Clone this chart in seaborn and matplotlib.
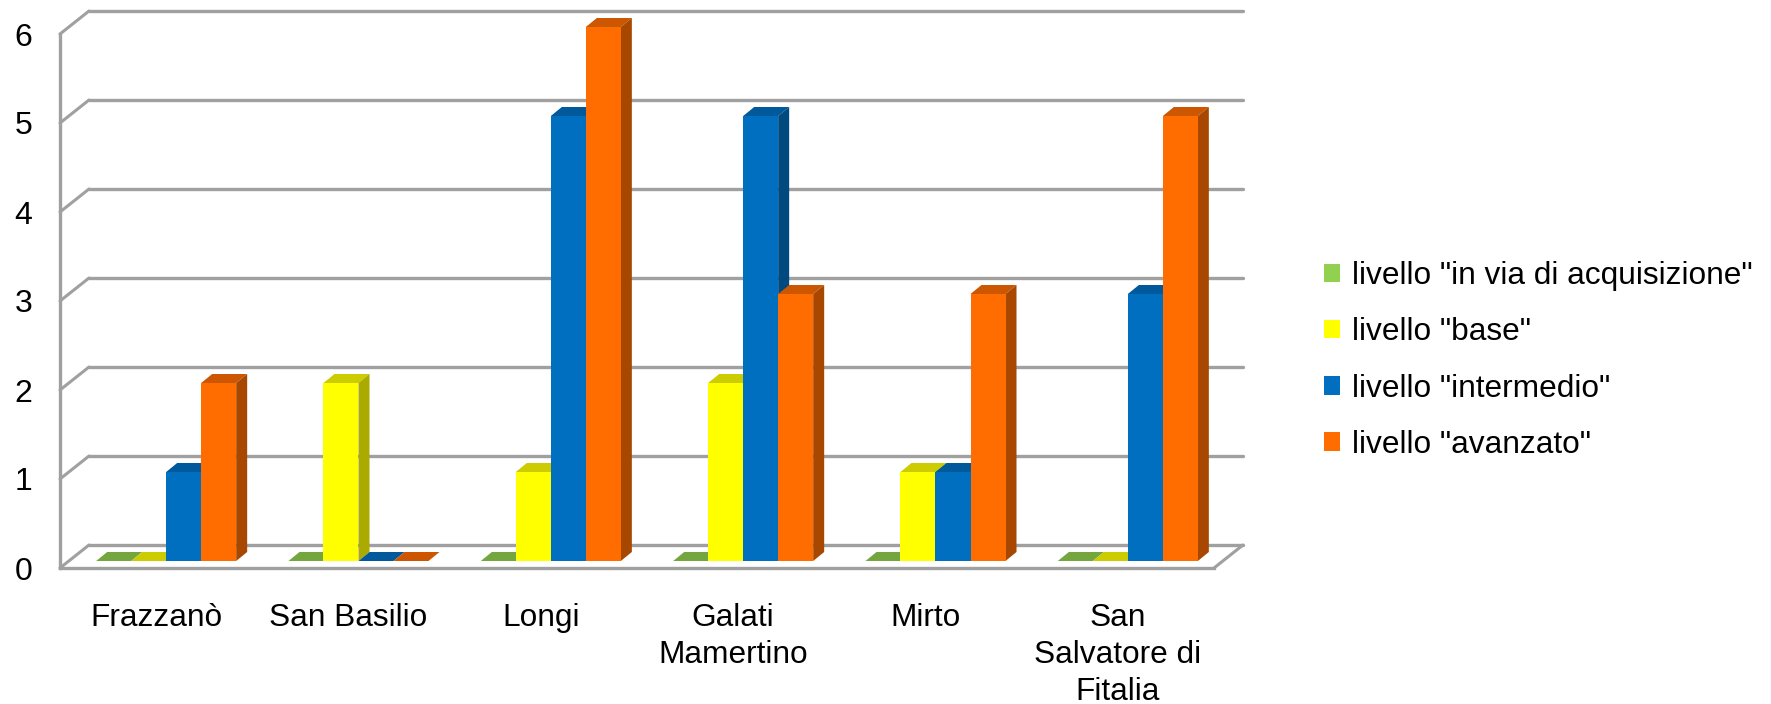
import matplotlib
matplotlib.use("Agg")
import matplotlib.pyplot as plt
from matplotlib.patches import Patch, Polygon
from matplotlib.transforms import ScaledTranslation
import pandas as pd
import seaborn as sns

# Data
comuni = ["Frazzanò", "San Basilio", "Longi", "Galati\nMamertino", "Mirto", "San\nSalvatore di\nFitalia"]
livelli = ['livello "in via di acquisizione"', 'livello "base"', 'livello "intermedio"', 'livello "avanzato"']
acquisizione = [0, 0, 0, 0, 0, 0]
base = [0, 2, 1, 2, 1, 0]
intermedio = [1, 0, 5, 5, 1, 3]
avanzato = [2, 0, 6, 3, 3, 5]
y_ticks = [0, 1, 2, 3, 4, 5, 6]

# front, side and top colours of each series
front_cols = ["#92d050", "#ffff00", "#006fbf", "#ff6d00"]
side_cols = ["#6d9c3c", "#aaaa00", "#004a80", "#a84800"]
top_cols = ["#74a640", "#cccc00", "#00599a", "#cc5700"]

df = pd.DataFrame({"comune": comuni * 4,
                   "livello": [l for l in livelli for _ in comuni],
                   "valore": acquisizione + base + intermedio + avanzato})

W, H, DPI = 1771, 704, 100
GRAY = "#a0a0a0"
sns.set_theme(style="white")
plt.rcParams["font.family"] = ["Liberation Sans", "DejaVu Sans"]

fig = plt.figure(figsize=(W / DPI, H / DPI), dpi=DPI)
# front plane of the chart box, in pixels
left, right, bottom, top = 60, 1214, 568, 34
ax = fig.add_axes([left / W, 1 - bottom / H, (right - left) / W, (bottom - top) / H])

sns.barplot(data=df, x="comune", y="valore", hue="livello", hue_order=livelli,
            palette=front_cols, width=0.728, gap=0, saturation=1, legend=False,
            linewidth=0, ax=ax)
ax.set_xlim(-0.5, 5.5)
ax.set_ylim(0, 6)
ax.set_xlabel("")
ax.set_ylabel("")
ax.set_yticks(y_ticks)

ax.tick_params(axis="y", length=5, width=1.8, color=GRAY, labelsize=23, pad=15, labelcolor="black")
ax.tick_params(axis="x", length=0, labelsize=22.8, pad=25, labelcolor="black")
for lab in ax.get_xticklabels():
    lab.set_linespacing(1.3)

for side in ["top", "right"]:
    ax.spines[side].set_visible(False)
for side in ["left", "bottom"]:
    ax.spines[side].set_color(GRAY)
    ax.spines[side].set_linewidth(2.4)

# back wall and floor, shifted from the front plane
wall = ax.transData + ScaledTranslation(29 / DPI, 23 / DPI, fig.dpi_scale_trans)
x_step = 29 / ((right - left) / 6)
y_step = 23 / ((bottom - top) / 6)
for v in y_ticks:
    ax.plot([-0.5, 5.5], [v, v], color=GRAY, lw=2.4, transform=wall, clip_on=False, zorder=1)
    ax.plot([-0.5, -0.5 + x_step], [v, v + y_step], color=GRAY, lw=2.2, clip_on=False, zorder=1)
ax.plot([5.5, 5.5 + x_step], [0, y_step], color=GRAY, lw=2.2, clip_on=False, zorder=1)

# bars stand inside the box, with a small 3D depth
bar_trans = ax.transData + ScaledTranslation(10 / DPI, 7 / DPI, fig.dpi_scale_trans)
bar_dx = 11 / ((right - left) / 6)
bar_dy = 9 / ((bottom - top) / 6)
for i, cont in enumerate(ax.containers):
    for p in cont.patches:
        x0, w, h = p.get_x(), p.get_width(), p.get_height()
        x1 = x0 + w
        top_face = Polygon([(x0, h), (x1, h), (x1 + bar_dx, h + bar_dy), (x0 + bar_dx, h + bar_dy)],
                           fc=top_cols[i], ec="none", transform=bar_trans, clip_on=False, zorder=3 + i)
        side_face = Polygon([(x1, 0), (x1 + bar_dx, bar_dy), (x1 + bar_dx, h + bar_dy), (x1, h)],
                            fc=side_cols[i], ec="none", transform=bar_trans, clip_on=False, zorder=3 + i)
        ax.add_patch(top_face)
        if h > 0:
            ax.add_patch(side_face)
        p.set_transform(bar_trans)
        p.set_clip_on(False)
        p.set_zorder(3.5 + i)

handles = [Patch(fc=c, ec="none", label=l) for c, l in zip(front_cols, livelli)]
fig.legend(handles=handles, loc="center left", bbox_to_anchor=(1324 / W, 1 - 360.5 / H),
           frameon=False, fontsize=22.8, labelcolor="black", handlelength=0.52, handleheight=0.52,
           handletextpad=0.36, labelspacing=0.83, borderpad=0, borderaxespad=0)

fig.savefig("out.png", dpi=DPI)
